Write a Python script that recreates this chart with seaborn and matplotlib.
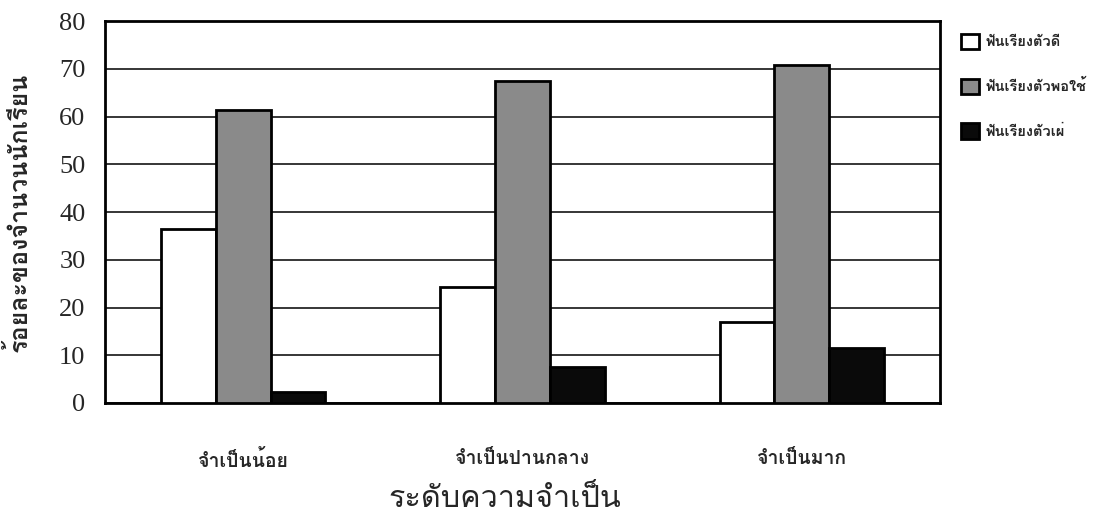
import pandas as pd
import matplotlib
matplotlib.use("Agg")
import matplotlib.pyplot as plt
import seaborn as sns
from matplotlib import font_manager
from matplotlib.ft2font import FT2Font
from matplotlib.patches import Patch

# Data
levels = ["จำเป็นน้อย", "จำเป็นปานกลาง", "จำเป็นมาก"]
groups = ["ฟันเรียงตัวดี", "ฟันเรียงตัวพอใช้", "ฟันเรียงตัวเผ่"]
good = [36.5, 24.3, 17.0]
fair = [61.3, 67.4, 70.9]
poor = [2.4, 7.6, 11.6]

colors = ["#ffffff", "#8a8a8a", "#0a0a0a"]


# find an installed family that has Thai glyphs
def thai_family():
    found = []
    for f in font_manager.fontManager.ttflist:
        try:
            if 0x0E08 in FT2Font(f.fname).get_charmap():
                found.append(f.name)
        except Exception:
            pass
    return found[0] if found else "DejaVu Sans"


thai = thai_family()

df = pd.DataFrame({
    "level": levels * 3,
    "type": [groups[0]] * 3 + [groups[1]] * 3 + [groups[2]] * 3,
    "pct": good + fair + poor,
})

sns.set_style("white")
plt.rcParams["font.family"] = [thai, "DejaVu Sans"]

fig = plt.figure(figsize=(11.11, 5.15), dpi=100)
ax = fig.add_axes([0.0945, 0.2175, 0.7516, 0.7415])

sns.barplot(data=df, x="level", y="pct", hue="type", order=levels,
            hue_order=groups, palette=colors, edgecolor="black",
            linewidth=2, width=0.59, gap=0, legend=False, ax=ax, zorder=3)

ax.set_ylim(0, 80)
ax.set_xlim(-0.494, 2.494)
ax.set_yticks(range(0, 81, 10))
ax.yaxis.grid(True, color="black", linewidth=1.1, zorder=0)
ax.set_axisbelow(True)
for s in ax.spines.values():
    s.set_color("black")
    s.set_linewidth(2)

ax.tick_params(axis="both", length=0)
ax.tick_params(axis="y", pad=14)
ax.tick_params(axis="x", pad=34)
for t in ax.get_yticklabels():
    t.set_fontfamily(["Liberation Serif"])
    t.set_fontsize(19)
for t in ax.get_xticklabels():
    t.set_fontsize(14)
    t.set_fontweight("bold")

ax.set_xlabel("ระดับความจำเป็น", fontsize=22)
ax.xaxis.set_label_coords(0.479, -0.215)
ax.set_ylabel("ร้อยละของจำนวนนักเรียน", fontsize=18, fontweight="bold")
ax.yaxis.set_label_coords(-0.088, 0.5)

handles = [Patch(facecolor=c, edgecolor="black", linewidth=2) for c in colors]
fig.legend(handles, groups, loc="upper left", bbox_to_anchor=(0.853, 0.96),
           frameon=False, handlelength=1.25, handleheight=1.25, labelspacing=2.0,
           handletextpad=0.45, prop={"size": 10.5, "weight": "bold"})

fig.savefig("out.png", dpi=100)
